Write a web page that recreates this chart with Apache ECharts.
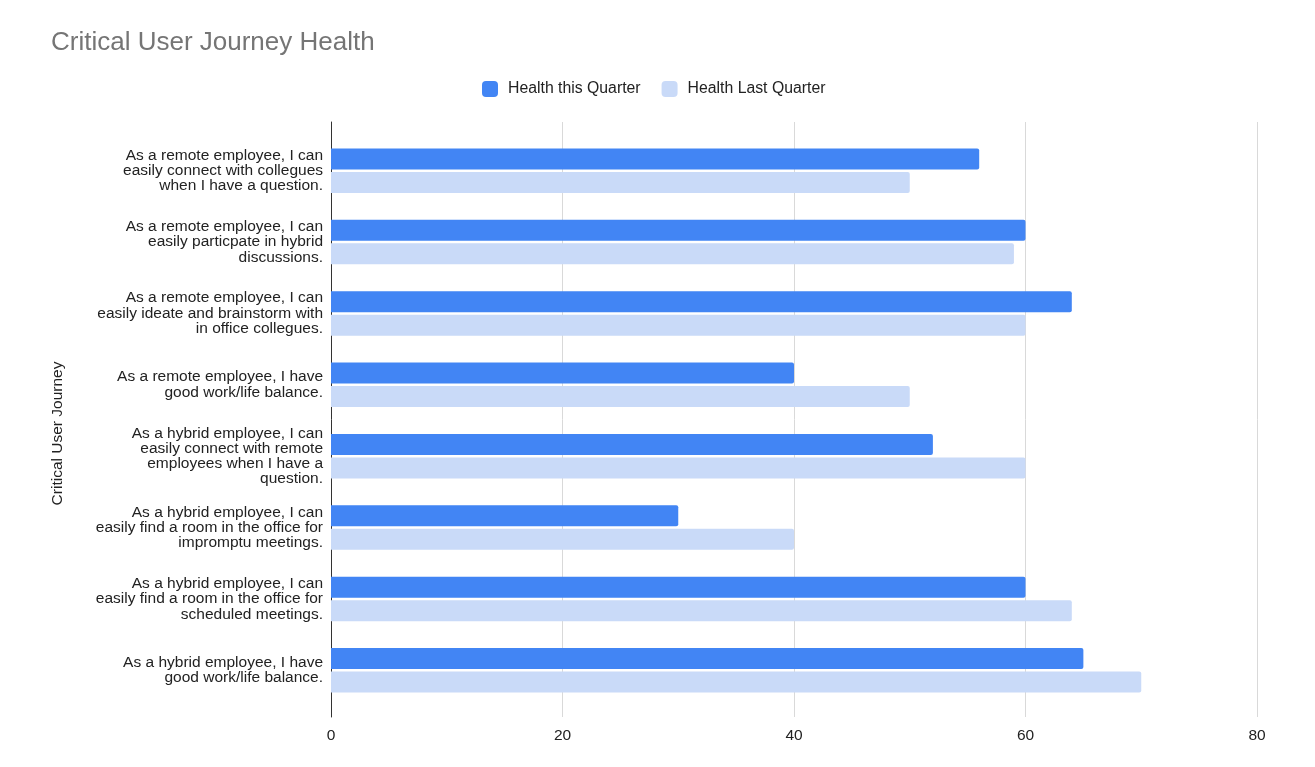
<!DOCTYPE html>
<html>
<head>
<meta charset="utf-8">
<script src="https://cdn.jsdelivr.net/npm/echarts@6/dist/echarts.min.js"></script>
<style>html,body{margin:0;padding:0;background:#fff}#c{width:1315px;height:767px}</style>
</head>
<body>
<div id="c"></div>
<script>
const categories = [
  "As a remote employee, I can\neasily connect with collegues\nwhen I have a question.",
  "As a remote employee, I can\neasily particpate in hybrid\ndiscussions.",
  "As a remote employee, I can\neasily ideate and brainstorm with\nin office collegues.",
  "As a remote employee, I have\ngood work/life balance.",
  "As a hybrid employee, I can\neasily connect with remote\nemployees when I have a\nquestion.",
  "As a hybrid employee, I can\neasily find a room in the office for\nimpromptu meetings.",
  "As a hybrid employee, I can\neasily find a room in the office for\nscheduled meetings.",
  "As a hybrid employee, I have\ngood work/life balance."
];
const healthThisQuarter = [56, 60, 64, 40, 52, 30, 60, 65];
const healthLastQuarter = [50, 59, 60, 50, 60, 40, 64, 70];
const xTicks = [0, 20, 40, 60, 80];

const FONT = 'Arial, "Liberation Sans", sans-serif';
const chart = echarts.init(document.getElementById('c'));
chart.setOption({
  backgroundColor: '#fff',
  title: {
    text: 'Critical User Journey Health',
    left: 46, top: 25,
    textStyle: { fontFamily: FONT, fontSize: 26, fontWeight: 'normal', color: '#757575' }
  },
  legend: {
    top: 76, left: 477,
    itemWidth: 16, itemHeight: 16, itemGap: 21,
    icon: 'roundRect',
    textStyle: { fontFamily: FONT, fontSize: 15.8, color: '#222', padding: [0, 0, 0, 5] },
    data: ['Health this Quarter', 'Health Last Quarter']
  },
  grid: [
    { left: 331, right: 58, top: 122, bottom: 50 },
    { left: 331, right: 58, top: 135, bottom: 61 }
  ],
  xAxis: [
    {
      gridIndex: 0, type: 'value', min: xTicks[0], max: xTicks[xTicks.length - 1], interval: 20,
      axisLine: { show: false }, axisTick: { show: false },
      axisLabel: { fontFamily: FONT, fontSize: 15.5, color: '#222', margin: 11 },
      splitLine: { show: true, lineStyle: { color: '#d9d9d9', width: 1 } }
    },
    {
      gridIndex: 1, type: 'value', min: xTicks[0], max: xTicks[xTicks.length - 1], interval: 20,
      show: false
    }
  ],
  yAxis: [
    {
      gridIndex: 0, type: 'value', min: 0, max: 1,
      axisLine: { show: true, lineStyle: { color: '#333', width: 1 } },
      axisTick: { show: false }, axisLabel: { show: false }, splitLine: { show: false }
    },
    {
      gridIndex: 1, type: 'category', data: categories, inverse: true,
      name: 'Critical User Journey', nameLocation: 'middle', nameGap: 265, nameRotate: 90,
      nameTextStyle: { fontFamily: FONT, fontSize: 15.5, color: '#222', padding: [0, 26, 0, 0] },
      axisLine: { show: false }, axisTick: { show: false },
      axisLabel: { fontFamily: FONT, fontSize: 15.5, color: '#222', lineHeight: 15.3, margin: 8, align: 'right' }
    }
  ],
  series: [
    { name: 'Health this Quarter', type: 'bar', xAxisIndex: 1, yAxisIndex: 1, data: healthThisQuarter,
      barWidth: 21, barGap: '12%',
      itemStyle: { color: '#4285f4', borderRadius: [0, 2, 2, 0] } },
    { name: 'Health Last Quarter', type: 'bar', xAxisIndex: 1, yAxisIndex: 1, data: healthLastQuarter,
      barWidth: 21,
      itemStyle: { color: '#c9daf8', borderRadius: [0, 2, 2, 0] } }
  ]
});
</script>
</body>
</html>
